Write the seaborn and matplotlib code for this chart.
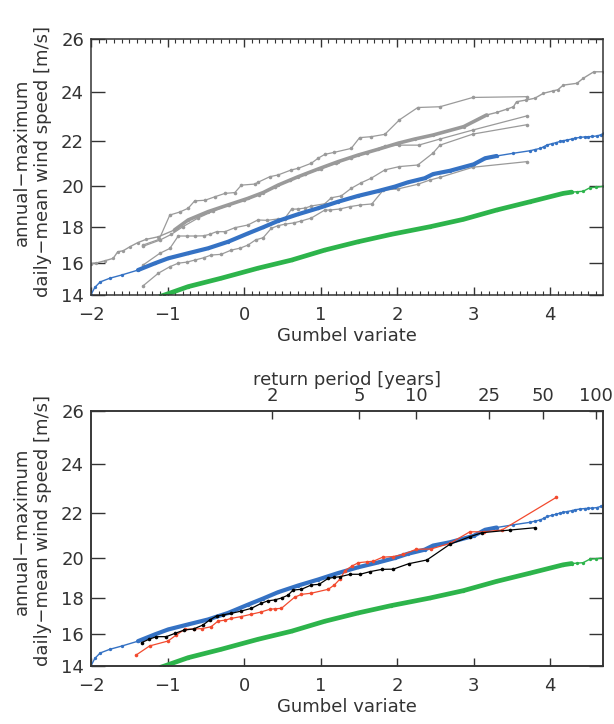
import numpy as np
import matplotlib
matplotlib.use("Agg")
import matplotlib.pyplot as plt
import seaborn as sns
from matplotlib.ticker import MultipleLocator

# ensemble of annual maxima (blue), long model run (gray), lower model (green)
blue_x = [-2.0, -1.95, -1.88, -1.755, -1.60, -1.386, -1.167, -0.993, -0.732, -0.47, -0.209,
          0.052, 0.248, 0.444, 0.706, 0.967, 1.229, 1.49, 1.75, 1.97, 2.14, 2.36, 2.47,
          2.69, 3.0, 3.15, 3.30, 3.52, 3.74, 3.80, 3.87, 3.92, 3.96, 4.02, 4.08, 4.13,
          4.17, 4.22, 4.28, 4.33, 4.39, 4.45, 4.50, 4.55, 4.61, 4.66, 4.70]
blue_y = [14.02, 14.5, 14.85, 15.08, 15.28, 15.58, 15.98, 16.27, 16.56, 16.84, 17.2,
          17.65, 17.97, 18.30, 18.64, 18.94, 19.26, 19.54, 19.77, 19.98, 20.18, 20.37, 20.56,
          20.71, 21.0, 21.27, 21.37, 21.49, 21.60, 21.65, 21.70, 21.78, 21.85, 21.9, 21.95, 22.0,
          22.03, 22.06, 22.1, 22.14, 22.17, 22.19, 22.2, 22.21, 22.23, 22.28, 22.34]

green_x = [-1.10, -1.04, -0.73, -0.30, 0.18, 0.62, 1.055, 1.49, 1.925, 2.43, 2.865,
           3.30, 3.74, 4.17, 4.28, 4.35, 4.43, 4.52, 4.60, 4.70]
green_y = [13.9, 14.0, 14.55, 15.08, 15.69, 16.17, 16.74, 17.2, 17.6, 18.0, 18.38,
           18.85, 19.26, 19.66, 19.72, 19.74, 19.76, 19.93, 19.95, 20.0]

gray_long_x = [-2.0, -1.93, -1.82, -1.71, -1.65, -1.58, -1.49, -1.39, -1.28, -1.12, -0.91,
               -0.73, -0.47, -0.21, 0.05, 0.25, 0.444, 0.706, 0.967, 1.229, 1.49, 1.75,
               2.01, 2.23, 2.47, 2.87, 3.17, 3.30, 3.43, 3.52, 3.56, 3.69, 3.80, 3.91,
               4.04, 4.10, 4.17, 4.35, 4.43, 4.57, 4.70]
gray_long_y = [15.97, 16.0, 16.13, 16.27, 16.65, 16.7, 16.93, 17.15, 17.33, 17.47, 17.83,
               18.35, 18.77, 19.10, 19.42, 19.7, 20.05, 20.44, 20.79, 21.12, 21.41, 21.66,
               21.92, 22.1, 22.27, 22.62, 23.1, 23.2, 23.33, 23.43, 23.63, 23.7, 23.77, 23.96,
               24.06, 24.1, 24.28, 24.35, 24.54, 24.79, 24.79]

# 40-year station records (gray)
sta_a_x = [-1.32, -1.11, -0.97, -0.84, -0.73, -0.645, -0.51, -0.38, -0.25, -0.12, -0.035,
           0.14, 0.18, 0.336, 0.444, 0.618, 0.706, 0.88, 0.967, 1.055, 1.18, 1.40, 1.51,
           1.66, 1.84, 2.03, 2.27, 2.56, 2.99, 3.695]
sta_a_y = [17.02, 17.33, 18.6, 18.75, 18.94, 19.3, 19.33, 19.5, 19.66, 19.7, 20.05,
           20.1, 20.18, 20.44, 20.52, 20.75, 20.82, 21.05, 21.27, 21.44, 21.53, 21.7, 22.16,
           22.2, 22.3, 22.9, 23.4, 23.43, 23.8, 23.83]

sta_b_x = [-1.32, -1.10, -0.97, -0.86, -0.75, -0.645, -0.53, -0.45, -0.36, -0.25, -0.12,
           0.05, 0.18, 0.30, 0.44, 0.53, 0.62, 0.70, 0.80, 0.88, 1.055, 1.14, 1.27, 1.40,
           1.53, 1.66, 1.84, 2.03, 2.27, 2.47, 2.56, 2.99, 3.695]
sta_b_y = [15.88, 16.56, 16.83, 17.51, 17.51, 17.51, 17.52, 17.6, 17.74, 17.74, 17.95,
           18.09, 18.35, 18.33, 18.4, 18.42, 18.89, 18.9, 18.95, 19.05, 19.16, 19.45, 19.54, 19.9,
           20.16, 20.37, 20.75, 20.9, 20.97, 21.5, 21.84, 22.31, 22.7]

sta_c_x = [-1.32, -1.10, -0.95, -0.80, -0.60, -0.40, -0.20, 0.0, 0.20, 0.40, 0.60, 0.80,
           1.0, 1.20, 1.40, 1.60, 1.84, 2.03, 2.28, 2.56, 2.99, 3.695]
sta_c_y = [16.95, 17.29, 17.6, 18.0, 18.45, 18.8, 19.1, 19.35, 19.6, 19.95, 20.3, 20.55,
           20.8, 21.05, 21.3, 21.5, 21.8, 21.84, 21.84, 22.1, 22.48, 23.06]

sta_d_x = [-1.32, -1.12, -0.97, -0.86, -0.75, -0.645, -0.53, -0.43, -0.30, -0.166, -0.05,
           0.052, 0.15, 0.25, 0.357, 0.44, 0.53, 0.65, 0.75, 0.88, 1.055, 1.12, 1.25, 1.386,
           1.52, 1.67, 1.82, 2.01, 2.27, 2.43, 2.56, 2.99, 3.695]
sta_d_y = [14.6, 15.39, 15.78, 15.99, 16.05, 16.17, 16.3, 16.46, 16.5, 16.74, 16.85,
           17.02, 17.3, 17.42, 17.92, 18.05, 18.13, 18.2, 18.3, 18.45, 18.85, 18.85, 18.9, 19.02,
           19.1, 19.15, 19.82, 19.87, 20.09, 20.29, 20.41, 20.87, 21.12]

# observed records (bottom panel)
obs_red_x = [-1.41, -1.234, -0.993, -0.885, -0.775, -0.66, -0.55, -0.43, -0.34, -0.25, -0.166,
             -0.04, 0.095, 0.22, 0.335, 0.41, 0.488, 0.66, 0.75, 0.88, 1.10, 1.18, 1.255,
             1.32, 1.41, 1.494, 1.60, 1.69, 1.81, 1.95, 2.08, 2.25, 2.44, 2.69, 2.95, 3.13,
             3.37, 4.08]
obs_red_y = [14.72, 15.29, 15.59, 15.95, 16.28, 16.3, 16.32, 16.43, 16.75, 16.8, 16.9,
             17.0, 17.13, 17.25, 17.4, 17.43, 17.45, 18.04, 18.19, 18.25, 18.45, 18.67, 18.97,
             19.38, 19.6, 19.76, 19.8, 19.83, 20.02, 20.05, 20.15, 20.39, 20.4, 20.66, 21.18, 21.18,
             21.26, 22.66]

obs_black_x = [-1.34, -1.24, -1.146, -1.016, -0.90, -0.78, -0.66, -0.536, -0.45, -0.36, -0.27,
               -0.166, -0.04, 0.095, 0.225, 0.31, 0.40, 0.49, 0.575, 0.64, 0.75, 0.88, 0.98,
               1.10, 1.18, 1.255, 1.386, 1.516, 1.647, 1.80, 1.95, 2.15, 2.39, 2.69, 2.95,
               3.11, 3.48, 3.80]
obs_black_y = [15.49, 15.7, 15.85, 15.85, 16.05, 16.24, 16.3, 16.53, 16.81, 17.03, 17.1,
               17.18, 17.3, 17.45, 17.72, 17.85, 17.9, 18.0, 18.15, 18.41, 18.45, 18.67, 18.7,
               19.0, 19.05, 19.08, 19.2, 19.2, 19.33, 19.44, 19.45, 19.71, 19.89, 20.62, 20.96,
               21.14, 21.26, 21.36]

return_periods = [2, 5, 10, 25, 50, 100]

BLUE = '#3572c4'
GREEN = '#2db44b'
GRAY = '#9a9a9a'
RED = '#f24a2e'
TEXT = '#333333'
XLIM = (-2.0, 4.69)


def draw_dense(ax, xs, ys, color, lo, hi, thick, ms=2.4):
    x = np.asarray(xs)
    y = np.asarray(ys)
    sns.lineplot(x=x, y=y, ax=ax, color=color, lw=1.0, marker='o', markersize=ms,
                 markeredgewidth=0, sort=False, estimator=None)
    m = (x >= lo) & (x <= hi)
    sns.lineplot(x=x[m], y=y[m], ax=ax, color=color, lw=thick, sort=False, estimator=None,
                 solid_capstyle='round')


def draw_record(ax, xs, ys, color):
    sns.lineplot(x=xs, y=ys, ax=ax, color=color, lw=0.9, marker='o', markersize=2.6,
                 markeredgewidth=0, sort=False, estimator=None)


def style_axes(ax, minor):
    ax.set_yscale('function', functions=(lambda v: v ** 2, lambda v: np.sqrt(np.clip(v, 0, None))))
    ax.set_ylim(14, 26)
    ax.set_xlim(*XLIM)
    ax.set_yticks([14, 16, 18, 20, 22, 24, 26])
    ax.set_xticks([-2, -1, 0, 1, 2, 3, 4])
    ax.tick_params(axis='y', which='major', direction='in', length=10, width=1.0,
                   left=True, right=True, labelsize=13, labelcolor=TEXT, color=TEXT, pad=5)
    ax.tick_params(axis='x', which='major', direction='in', length=6, width=1.0,
                   bottom=True, top=minor, labelsize=13, labelcolor=TEXT, color=TEXT, pad=8)
    if minor:
        ax.xaxis.set_minor_locator(MultipleLocator(0.1))
        ax.tick_params(axis='x', which='minor', direction='in', length=3, width=0.8,
                       bottom=True, top=True, color=TEXT)
    ax.yaxis.set_minor_locator(plt.NullLocator())
    for sp in ax.spines.values():
        sp.set_color(TEXT)
        sp.set_linewidth(1.1)
    ax.set_xlabel('Gumbel variate', fontsize=13, color=TEXT, labelpad=2)
    ax.set_ylabel('annual−maximum\ndaily−mean wind speed [m/s]', fontsize=13, color=TEXT)
    ax.grid(False)


def main():
    sns.set_style('ticks')
    plt.rcParams['font.family'] = ['DejaVu Sans']

    fig = plt.figure(figsize=(6.14, 7.24), dpi=100)
    ax1 = fig.add_axes([91 / 614, 1 - 295 / 724, 512 / 614, 256 / 724])
    ax2 = fig.add_axes([91 / 614, 1 - 666 / 724, 512 / 614, 255 / 724])

    # top panel: models and station records
    for sx, sy in [(sta_a_x, sta_a_y), (sta_b_x, sta_b_y), (sta_c_x, sta_c_y), (sta_d_x, sta_d_y)]:
        draw_record(ax1, sx, sy, GRAY)
    draw_dense(ax1, gray_long_x, gray_long_y, GRAY, -1.0, 3.17, 2.6)
    draw_dense(ax1, blue_x, blue_y, BLUE, -1.45, 3.45, 3.0)
    draw_dense(ax1, green_x, green_y, GREEN, -1.10, 4.28, 3.4)
    style_axes(ax1, minor=True)
    ax1.yaxis.set_label_coords(-0.076, 0.52)

    # bottom panel: observations against the ensemble
    draw_dense(ax2, blue_x, blue_y, BLUE, -1.45, 3.45, 3.0)
    draw_dense(ax2, green_x, green_y, GREEN, -1.10, 4.28, 3.4)
    draw_record(ax2, obs_red_x, obs_red_y, RED)
    draw_record(ax2, obs_black_x, obs_black_y, 'black')
    style_axes(ax2, minor=False)
    ax2.yaxis.set_label_coords(-0.076, 0.53)

    top = ax2.twiny()
    top.set_xlim(*XLIM)
    rp = np.array(return_periods, dtype=float)
    top.set_xticks(-np.log(-np.log(1 - 1 / rp)))
    top.set_xticklabels([str(r) for r in return_periods])
    top.tick_params(axis='x', direction='in', length=6, width=1.0, labelsize=13,
                    labelcolor=TEXT, color=TEXT, pad=4)
    top.set_xlabel('return period [years]', fontsize=13, color=TEXT, labelpad=2)
    for sp in top.spines.values():
        sp.set_color(TEXT)
        sp.set_linewidth(1.1)

    fig.savefig('out.png', dpi=100)
    plt.close(fig)


if __name__ == "__main__":
    main()
